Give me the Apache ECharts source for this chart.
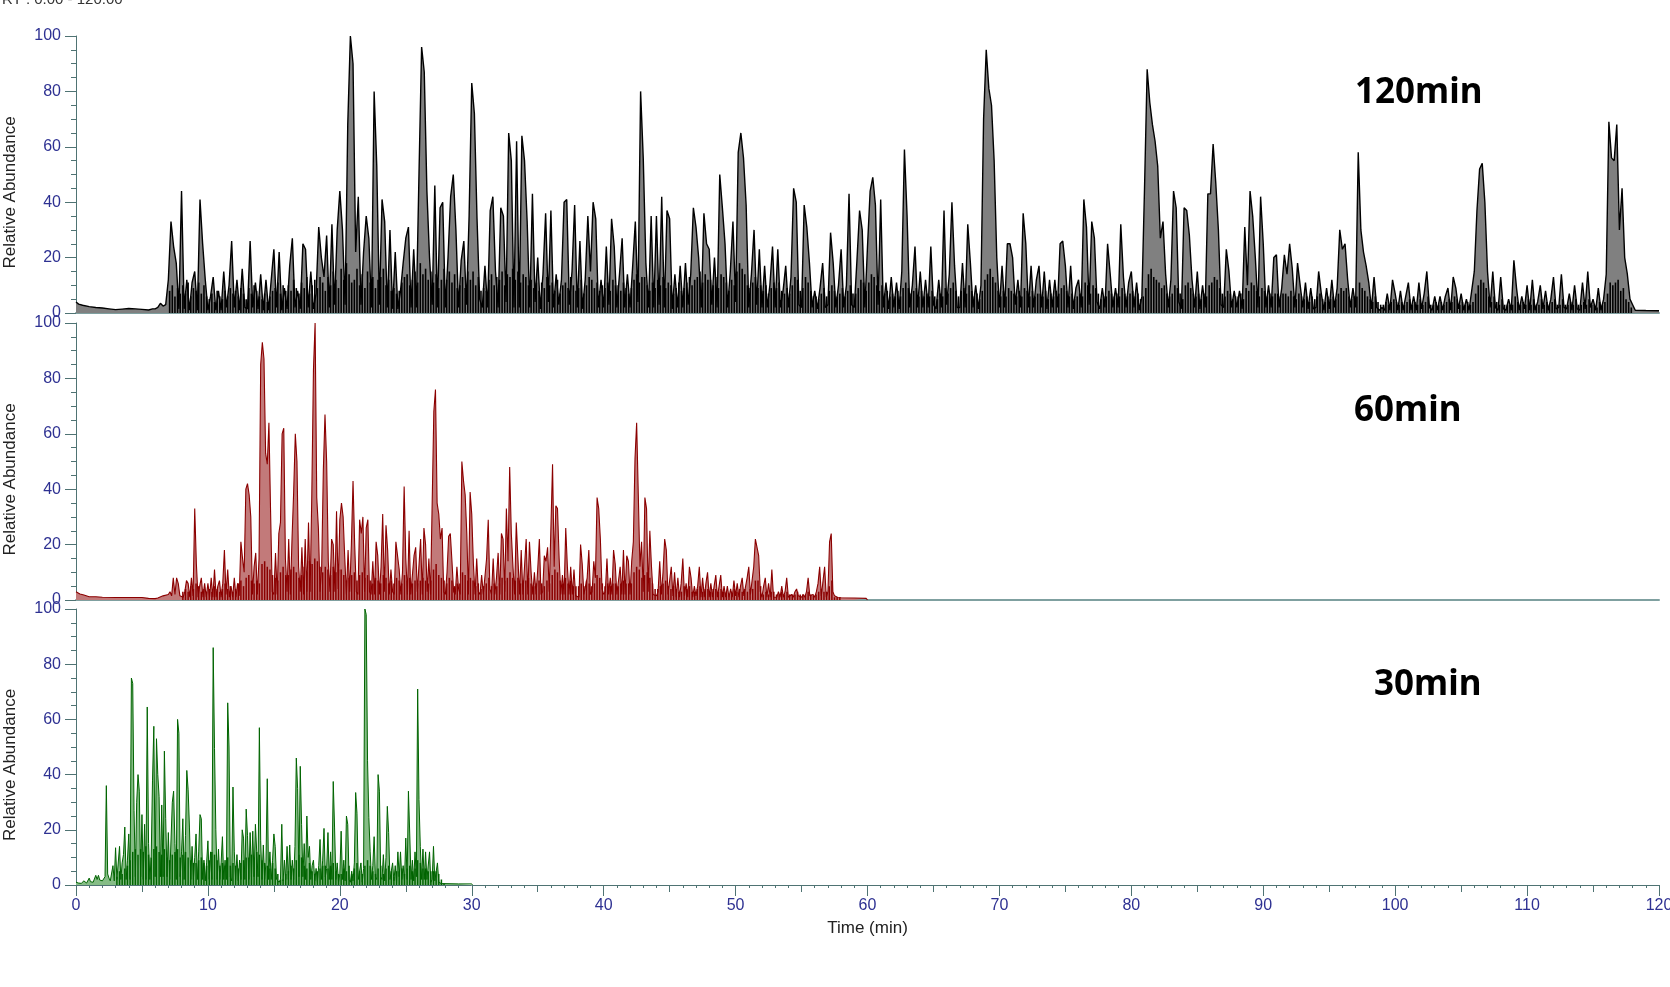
<!DOCTYPE html>
<html><head><meta charset="utf-8">
<style>html,body{margin:0;padding:0;background:#fff;overflow:hidden}#c{width:1670px;height:987px}</style>
<script src="https://cdn.jsdelivr.net/npm/echarts@6/dist/echarts.min.js"></script>
</head><body><div id="c"></div>
<script>
const xTickLabels = [0,10,20,30,40,50,60,70,80,90,100,110,120];
const headerText = 'RT : 0.00 - 120.00';
const panelNames = ['120min','60min','30min'];

// 120 min run: five samples per minute, one row per minute from minute 6
const lead120T = [0,0.2,0.5,1,1.5,2,2.5,3,3.5,4,4.5,5,5.5,5.8];
const lead120V = [4,3.2,2.8,2.3,2,1.8,1.5,1.2,1.4,1.6,1.5,1.3,1.1,1.5];
const vals120 = [
1.5,2,3.5,2.5,3,
12,33,24,18,1.5,
44,1.5,12,1,11,
15,1,41,25,12,
1,6,13,1,8,
1,15,2,10,26,
2,12,1,16,2,
1.5,26,2,11,1.5,
14,1,12,1,12,
23,2,22,1,9,
1.5,17,27,2,8,
1.5,25,23,2,15,
1.5,7,31,20,13,
28,2,32,3,30,
44,30,3,68,100,
90,22,42,3,22,
35,27,2,80,53,
3,41,33,2,30,
1.5,22,1.5,8,18,
27,31,2,23,2,
50,96,87,44,20,
3,46,2,38,40,
2,20,42,50,30,
2,19,26,3,35,
83,72,34,5,2,
17,2,37,42,15,
2,38,35,4,65,
55,2,62,2,64,
55,33,2,43,4,
20,1.5,14,36,4,
37,2,14,3,12,
40,41,3,15,39,
2,26,1.5,12,35,
15,40,34,2,12,
2,24,3,34,24,
2,14,27,2,14,
2,17,33,4,80,
56,18,2,35,2,
35,3,42,2,37,
34,1.5,14,2,17,
2,18,3,14,38,
31,20,2,36,25,
23,3,20,2,50,
38,25,2,15,33,
4,58,65,56,39,
2,14,30,3,23,
2,17,2,10,24,
2,23,2,8,17,
2,13,45,40,3,
2,39,31,18,2,
8,1.5,9,18,2,
3,29,18,2,10,
23,2,10,43,3,
2,19,37,30,2,
24,44,49,39,3,
41,2,11,1.5,13,
2,11,1.5,15,59,
35,2,10,24,2,
15,2,12,2,24,
3,1.5,12,2,37,
3,14,40,17,2,
2,18,2,32,18,
2,10,1.5,10,70,
95,81,75,55,20,
2,17,2,25,25,
20,3,12,2,36,
25,2,17,2,12,
17,2,15,1.5,12,
2,12,2,25,26,
17,2,17,1.5,9,
12,2,41,31,3,
33,27,4,1.5,9,
2,25,14,2,9,
2,32,13,2,11,
15,2,11,1,6,
45,88,76,68,62,
53,27,33,14,2,
12,44,38,4,1.5,
38,37,28,12,2,
15,1.5,10,2,43,
43,61,47,30,3,
2,23,15,2,8,
2,8,1.5,31,10,
44,35,20,2,42,
25,2,10,2,20,
21,2,9,21,14,
25,16,2,18,10,
2,11,1.5,9,1.5,
2,15,7,1,9,
1.5,12,2,9,30,
23,25,12,2,9,
2,58,30,22,17,
11,1.5,13,2,1,
2,1,7,1,12,
7,1,8,1,6,
11,1,6,1,11,
1.5,7,15,2,1,
6,1,6,1,6,
9,1,13,9,1.5,
7,1,5,1,8,
15,37,52,54,40,
15,2,15,2,1,
13,1.5,1,5,1,
19,9,1,6,1.5,
10,1,12,1,4,
10,1.5,8,1,5,
13,1.5,2,14,2,
1.5,7,1,10,1.5,
1,11,1.5,15,2,
5,1,9,1,5,
14,69,56,55,68,
30,45,20,14,5
];
const tail120T = [118,118.2,119,120];
const tail120V = [3,1,0.9,0.8];
// unresolved low-level signal under the 120 min trace: five per minute from minute 7
const grass120 = [
8,10,6,9,7, 10,7,11,6,9, 8,11,7,10,6, 5,7,4,8,6, 5,8,6,9,7,
8,6,9,7,5, 9,7,10,8,6, 5,7,4,6,8, 9,11,7,10,8, 10,8,12,9,7,
11,9,13,7,10, 12,9,13,11,8, 13,10,15,12,9, 16,12,18,14,11, 12,16,10,14,9,
15,11,13,9,12, 13,16,10,12,8, 9,7,8,11,13, 14,10,12,15,11, 18,14,16,12,15,
11,14,9,12,16, 12,15,11,14,9, 10,13,9,15,12, 15,10,13,8,9, 8,12,14,10,13,
12,15,10,14,13, 16,12,15,11,14, 13,10,12,9,11, 8,11,9,13,10, 11,8,12,7,10,
11,9,13,10,8, 9,12,7,10,13, 12,9,11,8,10, 9,11,8,12,10, 10,8,11,9,7,
9,12,14,11,13, 13,10,8,11,9, 12,10,13,9,11, 10,7,9,11,8, 9,11,13,10,12,
13,15,11,14,12, 12,10,13,9,14, 13,11,8,12,10, 15,18,16,14,10, 9,11,13,9,10,
8,10,7,9,11, 9,11,8,7,9, 7,10,13,12,8, 9,13,11,8,6, 6,5,7,9,6,
8,10,8,6,7, 9,6,8,10,7, 7,9,12,11,8, 11,14,13,10,8, 10,7,8,6,7,
6,8,6,9,11, 9,7,8,9,6, 8,6,7,6,8, 6,5,7,6,9, 7,9,11,8,6,
8,9,7,10,8, 6,7,5,8,12, 14,16,13,11,8, 6,8,6,9,8, 7,6,8,6,9,
8,6,8,6,7, 7,6,8,5,7, 6,8,7,9,10, 8,6,7,5,6, 7,6,11,10,7,
10,9,7,5,6, 6,8,7,6,7, 6,9,7,6,7, 8,6,7,5,6, 9,14,16,13,12,
11,9,10,7,6, 7,10,9,7,5, 10,11,9,7,6, 7,5,7,6,10, 11,13,12,9,7,
6,8,7,5,6, 6,7,5,9,8, 11,10,8,6,9, 8,6,7,6,7, 7,6,7,7,6,
8,6,5,7,6, 5,6,4,6,5, 6,7,5,4,6, 5,6,5,7,9, 8,9,6,5,6,
6,11,9,8,6, 5,4,6,4,3, 3,4,3,4,5, 4,3,4,3,4, 5,3,4,3,5,
3,4,6,3,3, 4,3,4,3,4, 5,4,6,5,3, 4,3,4,3,4, 7,10,12,11,9,
6,4,6,4,3, 5,3,3,3,3, 6,4,3,4,3, 5,3,5,3,3, 5,3,4,3,4,
5,3,3,5,3, 3,4,3,5,3, 3,4,3,5,3, 3,2,4,3,4, 7,11,10,11,12,
8,9,5,4,2
];

// 60 min run: eight samples per minute, one row per minute from minute 7
const lead60T = [0,0.1,0.3,0.6,1,1.5,2,3,4,5,5.5,6,6.2,6.6];
const lead60V = [3,2.8,2.2,1.8,1.2,1.2,1,0.9,0.9,0.9,0.6,0.5,0.7,1.5];
const vals60 = [
2,3,1.5,8,2,8,6,1.5,
1.5,1,3,7,6,1,8,1.5,
33,13,1,5,8,1,6,1,
6,1,8,1,11,1,5,7,
1,6,18,2,11,1,5,1,
8,1,6,1.5,21,15,10,40,
42,38,30,2,12,17,2,15,
85,93,87,53,49,64,32,3,
2,17,2,24,28,60,62,15,
3,22,2,22,39,60,50,12,
3,19,2,22,3,28,3,38,
83,100,37,26,3,12,47,67,
50,14,3,22,20,3,32,4,
29,35,30,15,2,18,3,20,
43,20,3,2,29,24,30,3,
26,29,3,2,14,2,21,16,
2,12,31,3,27,18,2,11,
3,2,21,21,11,2,10,41,
15,2,25,2,2,16,19,3,
3,22,2,26,20,3,15,2,
2,68,76,35,31,22,26,3,
2,10,23,24,14,3,2,12,
4,2,50,43,38,24,2,39,
31,13,2,15,3,2,9,2,
2,15,29,4,2,15,2,8,
17,2,24,22,3,33,14,48,
24,12,2,28,15,2,18,2,
2,22,2,21,10,2,10,2,
11,22,2,3,16,14,19,3,
3,49,12,34,33,15,2,9,
2,26,12,2,12,2,11,1.5,
2,1,20,13,2,2,8,18,
2,3,14,8,37,33,22,4,
2,3,15,2,8,2,18,13,
2,2,12,2,18,2,16,14,
2,14,21,51,64,38,12,21,
3,37,33,3,25,12,2,2,
1.5,3,14,2,10,22,18,2,
1.5,12,1.5,10,1,8,1,6,
15,1.5,6,1,12,8,1,5,
1.5,5,12,1,8,1,6,10,
1,6,1,5,9,1,5,9,
1,5,1,5,1,4,1,7,
1.5,6,1,5,8,1.5,1,8,
12,2,7,12,22,22,16,3,
1,5,8,1,6,1,11,1,
1,1,3,1,5,1,3,8,
1,1,2,1,3,4,1.5,1,
1,2,1,3,8,1.5,1,2,
1,3,6,12,1.5,1,12,1,
3,21,24,3,1.5,1,0.9,0.9
];
const tail60T = [58,59,59.9,60];
const tail60V = [0.8,0.7,0.6,0];
// unresolved low-level signal under the 60 min trace: five per minute from minute 8
const grass60 = [
3,4,3,5,4, 6,5,3,4,3, 4,3,5,4,3, 4,6,4,5,3, 4,6,7,5,8,
9,7,6,7,6, 13,14,12,11,9, 8,7,10,12,9, 9,11,12,10,8, 9,12,10,14,13,
15,14,12,10,12, 11,9,12,10,11, 11,9,7,8,9, 10,7,9,10,8, 9,7,6,8,7,
6,9,8,6,7, 6,8,7,6,9, 7,8,6,7,6, 7,8,7,6,7, 11,13,9,8,7,
6,8,7,5,6, 6,10,9,7,8, 7,5,6,4,5, 6,8,5,6,5, 6,8,7,8,10,
8,7,8,6,7, 7,8,6,5,6, 7,6,5,7,6, 9,11,10,7,6, 8,6,7,5,5,
5,6,5,7,6, 5,6,9,8,6, 5,6,5,6,6, 5,6,7,6,6, 6,10,12,11,8,
9,10,8,6,4, 4,5,6,7,5, 4,5,4,3,3, 5,4,5,3,3, 4,5,3,4,4,
3,4,4,3,4, 3,3,2,3,4, 3,4,3,4,3, 4,4,7,7,5, 2,3,2,3,3,
2,2,3,2,3, 2,2,2,3,2, 2,2,3,2,1.5, 2,3,4,3,3, 5,7,1,1,1
];

// 30 min run: ten samples per minute, one row per minute from minute 0
const lead30T = [];
const lead30V = [];
const vals30 = [
1,0.8,0.7,0.7,0.6,0.7,1.5,0.8,0.7,1,
2.5,1.2,0.8,1,1.5,3.5,2,3.5,1.8,1.5,
1.5,1.2,3,36,4,2.5,1.5,1.2,7,1.5,
13.5,2,1.5,14,2,8,11,21,2,9,
18.5,2,75,73,27,3,30,40,34,3,
25.5,2,22,2,64.5,15,2,10,38,57.5,
3,53,40,32,3,29,3,48.5,24,3,
19,2,2,30,34,15,2,60,55,3,
12,24,2,18,41.5,34.5,21,2,14,2,
10,18.5,2,12,25.5,24,2,9,1.5,8,
16,2,12,2,86,49.5,20,2,13,2,
8,17.5,2,9,2,66,50,3,1.5,35.5,
12,2,11,1.5,9,2,20,17,2,27.5,
18,2,19,3,19.5,3,22,12,3,57,
16,2,14.5,2,8,38.5,2,12,2,9,
18.5,14,2,1.5,1,2,22,1.5,9,2,
14,2,14.5,2,9,2,14,46,35,3,
43,22,3,15,2,25,10,14,2,7,
9,1.5,6,1,7,16.5,2,9,20.5,3,
6,19,2,12,2,37.5,21,2,8,1,
4,19.5,2,9,1.5,25,22,2,1,5,
1.5,8,33.5,26,2,1.5,8,1,6,100,
98,45,24.5,12,2,7,17.5,3,2,40,
34,3,2,11,1.5,10,28.5,19,2,2,
8,1.5,7,1,12,3,12,2,7,1.5,
17,2,34,18.5,2,9,1.5,12,3,71,
31,14,2,13,2,12,2,1.5,12,1,
2,14,1.5,1,8,1,0.6,0.5,0.5,0.5
];
const tail30T = [28,29,30,30.05];
const tail30V = [0.5,0.4,0.4,0];
// unresolved low-level signal under the 30 min trace: five per minute from minute 3
const grass30 = [
3,5,4,6,7, 9,12,13,11,13, 12,14,11,10,13, 14,12,11,13,10, 9,11,12,13,10,
11,12,10,9,8, 8,9,10,8,7, 9,12,11,9,7, 8,7,10,7,8, 7,6,8,9,10,
10,11,10,12,11, 9,8,7,6,8, 6,4,2,2,4, 5,7,6,9,11, 10,7,6,8,5,
4,5,6,7,7, 6,7,8,5,4, 4,6,5,7,4, 6,8,5,4,7, 9,7,5,4,6,
7,4,6,7,5, 3,5,5,6,4, 6,7,5,6,9, 8,6,6,5,5, 5,5,4,2,0.5
];

function series(leadT, leadV, firstMinute, perMinute, vals, tailT, tailV) {
  const out = leadT.map((t, i) => [t, leadV[i]]);
  vals.forEach((v, i) => out.push([firstMinute + i / perMinute, v]));
  tailT.forEach((t, i) => out.push([t, tailV[i]]));
  return out;
}
function grass(firstMinute, vals) {
  return vals.map((v, i) => [firstMinute + 0.1 + i * 0.2, v]);
}
const data120 = series(lead120T, lead120V, 6, 5, vals120, tail120T, tail120V);
const data60 = series(lead60T, lead60V, 7, 8, vals60, tail60T, tail60V);
const data30 = series(lead30T, lead30V, 0, 10, vals30, tail30T, tail30V);
const grassData = [grass(7, grass120), grass(8, grass60), grass(3, grass30)];

const NAVY = '#2e3192', AXIS = '#4f7373', FONT = '"Liberation Sans", Arial, sans-serif';
const grids = [
  {left: 76, width: 1583, top: 36, height: 277, outerBoundsMode: 'none'},
  {left: 76, width: 1583, top: 323, height: 277, outerBoundsMode: 'none'},
  {left: 76, width: 1583, top: 609, height: 276, outerBoundsMode: 'none'}
];
const yAxis = grids.map((g, i) => ({
  type: 'value', gridIndex: i, min: 0, max: 100, interval: 20,
  axisLine: {show: true, lineStyle: {color: AXIS, width: 1}},
  axisTick: {show: true, length: 11, lineStyle: {color: AXIS}},
  minorTick: {show: true, splitNumber: 4, length: 5, lineStyle: {color: AXIS}},
  splitLine: {show: false},
  axisLabel: {color: NAVY, fontSize: 16, fontFamily: FONT, margin: 15},
  name: 'Relative Abundance', nameLocation: 'middle', nameGap: 57,
  nameTextStyle: {color: '#222', fontSize: 17, fontFamily: FONT, padding: [0, 36, 0, 0]}
}));
const xAxis = grids.map((g, i) => ({
  type: 'value', gridIndex: i, min: 0, max: 120, interval: 10,
  axisLine: {show: true, onZero: false, lineStyle: {color: i === 2 ? AXIS : '#7fa0a0', width: i === 2 ? 1 : 2}},
  axisTick: {show: i === 2, length: 11, lineStyle: {color: AXIS}},
  minorTick: {show: i === 2, splitNumber: 10, length: 3, lineStyle: {color: AXIS}},
  splitLine: {show: false}, minorSplitLine: {show: false},
  axisLabel: {show: i === 2, color: NAVY, fontSize: 16, fontFamily: FONT, margin: 13, hideOverlap: false, showMaxLabel: true,
    formatter: v => xTickLabels.includes(v) ? String(v) : ''},
  name: i === 2 ? 'Time (min)' : '', nameLocation: 'middle', nameGap: 35,
  nameTextStyle: {color: '#222', fontSize: 17, fontFamily: FONT}
}));
// medium ticks every 5 minutes on the bottom axis
xAxis.push({
  type: 'value', gridIndex: 2, position: 'bottom', min: 0, max: 120, interval: 5,
  axisLine: {show: false, onZero: false},
  axisTick: {show: true, length: 7, lineStyle: {color: AXIS}},
  axisLabel: {show: false}, splitLine: {show: false}
});
const style = [
  {line: '#000000', area: '#808080', width: 1.4, bar: 1.6},
  {line: '#8b0000', area: '#c27a7a', width: 1.1, bar: 1.5},
  {line: '#006400', area: '#86bd86', width: 1, bar: 1.5}
];
const lineSeries = [data120, data60, data30].map((d, i) => ({
  type: 'line', xAxisIndex: i, yAxisIndex: i, data: d,
  showSymbol: false, symbol: 'none', silent: true, animation: false,
  lineStyle: {color: style[i].line, width: style[i].width, join: 'bevel'},
  areaStyle: {color: style[i].area, opacity: 1}
}));
const barSeries = grassData.map((d, i) => ({
  type: 'bar', xAxisIndex: i, yAxisIndex: i, data: d, barWidth: style[i].bar,
  silent: true, animation: false, itemStyle: {color: style[i].line}, z: 3
}));
const titleStyle = {color: '#000', fontSize: 35, fontWeight: 'bold', fontFamily: '"Noto Sans", sans-serif'};
const chart = echarts.init(document.getElementById('c'), null, {renderer: 'canvas'});
chart.setOption({
  backgroundColor: '#fff', animation: false,
  title: [
    {text: headerText, left: 2, top: -8, padding: 0, textStyle: {color: '#333', fontSize: 15, fontWeight: 'normal', fontFamily: FONT}},
    {text: panelNames[0], left: 1355, top: 76, padding: 0, textStyle: titleStyle},
    {text: panelNames[1], left: 1354, top: 394, padding: 0, textStyle: titleStyle},
    {text: panelNames[2], left: 1374, top: 668, padding: 0, textStyle: titleStyle}
  ],
  grid: grids, xAxis, yAxis, series: lineSeries.concat(barSeries)
});
</script></body></html>
